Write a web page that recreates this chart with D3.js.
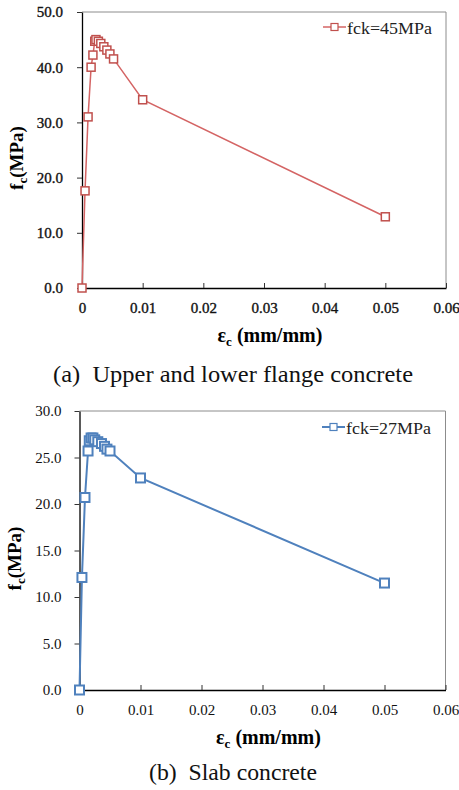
<!DOCTYPE html>
<html>
<head>
<meta charset="utf-8">
<script src="https://cdn.jsdelivr.net/npm/d3@7"></script>
<style>
  body { margin: 0; background: #fff; }
</style>
</head>
<body>
<svg id="chart" width="459" height="790" font-family="Liberation Serif"></svg>
<script>
// (a) upper and lower flange concrete, fck = 45 MPa
const strainA = [0, 0.0005, 0.001, 0.0015, 0.0018, 0.0021, 0.0023, 0.0027, 0.0031, 0.0036, 0.0041, 0.0046, 0.0052, 0.01, 0.05];
const stressA = [0, 17.6, 31.0, 40.0, 42.2, 44.7, 45.0, 44.7, 44.3, 43.7, 43.1, 42.4, 41.5, 34.1, 12.9];
// (b) slab concrete, fck = 27 MPa
const strainB = [0, 0.0004, 0.0009, 0.0014, 0.0016, 0.0019, 0.0022, 0.0025, 0.003, 0.0036, 0.0041, 0.0045, 0.005, 0.01, 0.05];
const stressB = [0, 12.1, 20.7, 25.7, 26.8, 27.1, 27.1, 26.9, 26.7, 26.5, 26.2, 25.9, 25.7, 22.8, 11.5];

const xTicks = [0, 0.01, 0.02, 0.03, 0.04, 0.05, 0.06];
const yTicksA = [0, 10, 20, 30, 40, 50];
const yTicksB = [0, 5, 10, 15, 20, 25, 30];

const FONT = "Liberation Serif";
const svg = d3.select("#chart");

function drawChart(opt) {
  const { left, top, right, bottom } = opt.box;
  const x = d3.scaleLinear().domain([0, 0.06]).range([left, right]);
  const y = d3.scaleLinear().domain([0, opt.yMax]).range([bottom, top]);
  const g = svg.append("g");

  // grey frame on top and right
  g.append("path")
    .attr("d", `M${left},${top}H${right}V${bottom}`)
    .attr("fill", "none")
    .attr("stroke", "#8c8c8c")
    .attr("stroke-width", 1);

  const xAxis = g.append("g")
    .attr("transform", `translate(0,${bottom})`)
    .call(d3.axisBottom(x).tickValues(xTicks).tickSizeInner(-5).tickSizeOuter(0)
      .tickPadding(14).tickFormat(d => d === 0 ? "0" : d3.format(".2f")(d)));
  const yAxis = g.append("g")
    .attr("transform", `translate(${left},0)`)
    .call(d3.axisLeft(y).tickValues(opt.yTicks).tickSize(5).tickSizeOuter(0)
      .tickPadding(opt.yPad).tickFormat(d3.format(".1f")));

  [xAxis, yAxis].forEach(a => {
    a.attr("font-family", FONT).attr("font-size", 15);
    a.select(".domain").attr("stroke", "#000").attr("stroke-width", 1.3);
    a.selectAll(".tick line").attr("stroke", "#333");
    a.selectAll(".tick text")
      .attr("fill", "#111")
      .attr("stroke", opt.tickStroke ? "#111" : "none")
      .attr("stroke-width", opt.tickStroke || 0);
  });

  const pts = opt.xs.map((v, i) => [v, opt.ys[i]]);
  const line = d3.line().x(d => x(d[0])).y(d => y(d[1]));
  g.append("path")
    .datum(pts)
    .attr("d", line)
    .attr("fill", "none")
    .attr("stroke", opt.lineColor)
    .attr("stroke-width", opt.lineWidth);

  const s = opt.marker;
  g.selectAll("rect.pt")
    .data(pts)
    .join("rect")
    .attr("class", "pt")
    .attr("x", d => x(d[0]) - s / 2)
    .attr("y", d => y(d[1]) - s / 2)
    .attr("width", s)
    .attr("height", s)
    .attr("fill", "#fff")
    .attr("stroke", opt.markerColor)
    .attr("stroke-width", opt.lineWidth);

  // legend
  const ly = top + opt.legendDy;
  g.append("line")
    .attr("x1", opt.legendX).attr("x2", opt.legendX + 23)
    .attr("y1", ly).attr("y2", ly)
    .attr("stroke", opt.lineColor).attr("stroke-width", opt.lineWidth);
  g.append("rect")
    .attr("x", opt.legendX + 11.5 - 3.5).attr("y", ly - 3.5)
    .attr("width", 7).attr("height", 7)
    .attr("fill", "#fff").attr("stroke", opt.markerColor).attr("stroke-width", 1.2);
  g.append("text")
    .attr("x", opt.legendX + 24).attr("y", ly + 6.5)
    .attr("font-family", FONT)
    .attr("font-size", 16)
    .attr("textLength", 85)
    .attr("lengthAdjust", "spacingAndGlyphs")
    .attr("fill", "#222")
    .text(opt.legend);

  // y axis title
  const yt = g.append("text")
    .attr("transform", `translate(${left - 59},${(top + bottom) / 2 + 8}) rotate(-90)`)
    .attr("text-anchor", "middle")
    .attr("font-family", FONT)
    .attr("font-size", 19)
    .attr("font-weight", "bold");
  yt.append("tspan").text("f");
  yt.append("tspan").attr("font-size", 13).attr("dy", 4).text("c");
  yt.append("tspan").attr("dy", -4).text("(MPa)");

  // x axis title
  const xt = g.append("text")
    .attr("x", (left + right) / 2 + 6)
    .attr("y", bottom + 54)
    .attr("text-anchor", "middle")
    .attr("font-family", FONT)
    .attr("font-size", 20)
    .attr("font-weight", "bold");
  xt.append("tspan").text("ε");
  xt.append("tspan").attr("font-size", 13).attr("dy", 4).text("c");
  xt.append("tspan").attr("dy", -4).text(" (mm/mm)");

  // caption
  g.append("text")
    .attr("x", opt.captionX)
    .attr("y", opt.captionY)
    .attr("font-family", FONT)
    .attr("font-size", 23)
    .attr("xml:space", "preserve")
    .attr("textLength", opt.captionW)
    .attr("lengthAdjust", "spacingAndGlyphs")
    .attr("fill", "#111")
    .text(opt.caption);
}

drawChart({
  box: { left: 82, top: 12, right: 446, bottom: 288 },
  yMax: 50, yTicks: yTicksA, yPad: 14,
  xs: strainA, ys: stressA,
  lineColor: "#d46464", markerColor: "#c0504d", lineWidth: 1.5, marker: 8,
  legend: "fck=45MPa", legendX: 323, legendDy: 15,
  caption: "(a)  Upper and lower flange concrete", captionX: 53, captionY: 382, captionW: 360,
  tickStroke: 0.35
});

drawChart({
  box: { left: 79.5, top: 411, right: 445.5, bottom: 690 },
  yMax: 30, yTicks: yTicksB, yPad: 13,
  xs: strainB, ys: stressB,
  lineColor: "#4f81bd", markerColor: "#4f81bd", lineWidth: 2, marker: 9,
  legend: "fck=27MPa", legendX: 322, legendDy: 16,
  caption: "(b)  Slab concrete", captionX: 149, captionY: 780, captionW: 168,
  tickStroke: 0
});
</script>
</body>
</html>
